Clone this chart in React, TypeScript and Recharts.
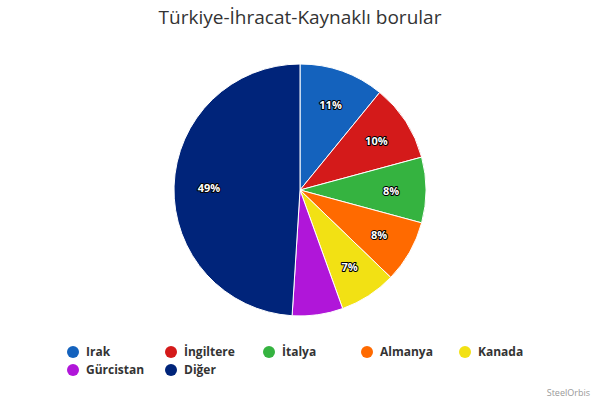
import { Cell, Pie, PieChart } from "recharts";

const countries = ["Irak", "İngiltere", "İtalya", "Almanya", "Kanada", "Gürcistan", "Diğer"];
const shares = [10.9, 9.9, 8.4, 8.0, 7.3, 6.5, 49.0];
const colors = ["#1462bd", "#d41a1a", "#35b340", "#ff6a00", "#f2e114", "#b016d9", "#00247a"];
const shownLabels = ["11%", "10%", "8%", "8%", "7%", "", "49%"];

const data = countries.map((name, i) => ({ name, value: shares[i], label: shownLabels[i] }));

const FONT = "'Open Sans', 'DejaVu Sans', sans-serif";
const RADIAN = Math.PI / 180;

function renderLabel(props: any) {
  const { cx, cy, midAngle, outerRadius, index } = props;
  const text = shownLabels[index];
  if (!text) {
    return null;
  }
  const r = outerRadius - 35;
  const x = cx + r * Math.cos(-midAngle * RADIAN);
  const y = cy + r * Math.sin(-midAngle * RADIAN);
  return (
    <text
      x={x}
      y={y}
      textAnchor="middle"
      dominantBaseline="central"
      fill="#ffffff"
      stroke="#000000"
      strokeWidth={2}
      paintOrder="stroke"
      strokeLinejoin="round"
      style={{ fontFamily: FONT, fontSize: 11, fontWeight: 700 }}
    >
      {text}
    </text>
  );
}

function LegendBox() {
  return (
    <div style={{ position: "absolute", left: 0, top: 343, width: 600, height: 40 }}>
      {data.map((d, i) => {
        const col = i % 5;
        const row = Math.floor(i / 5);
        return (
          <div
            key={d.name}
            style={{
              position: "absolute",
              left: 67 + col * 98,
              top: row * 18,
              display: "flex",
              alignItems: "center",
              fontFamily: FONT,
              fontSize: 12,
              fontWeight: 700,
              color: "#333333",
              whiteSpace: "nowrap",
            }}
          >
            <span
              style={{
                display: "inline-block",
                width: 12,
                height: 12,
                borderRadius: 6,
                background: colors[i],
                marginRight: 7,
              }}
            />
            {d.name}
          </div>
        );
      })}
    </div>
  );
}

export default function App() {
  return (
    <div style={{ position: "absolute", left: 0, top: 0, width: 600, height: 400, background: "#ffffff" }}>
      <PieChart width={600} height={400} margin={{ top: 0, right: 0, bottom: 0, left: 0 }}>
        <Pie
          data={data}
          dataKey="value"
          nameKey="name"
          cx={300}
          cy={190}
          outerRadius={126}
          startAngle={90}
          endAngle={-270}
          stroke="#ffffff"
          strokeWidth={1}
          label={renderLabel}
          labelLine={false}
          isAnimationActive={false}
        >
          {data.map((d, i) => (
            <Cell key={d.name} fill={colors[i]} />
          ))}
        </Pie>
      </PieChart>
      <div
        style={{
          position: "absolute",
          top: 4,
          left: 0,
          width: 600,
          textAlign: "center",
          fontFamily: FONT,
          fontSize: 19,
          color: "#333333",
        }}
      >
        Türkiye-İhracat-Kaynaklı borular
      </div>
      <LegendBox />
      <div
        style={{
          position: "absolute",
          right: 10,
          top: 386,
          fontFamily: FONT,
          fontSize: 9,
          color: "#999999",
        }}
      >
        SteelOrbis
      </div>
    </div>
  );
}
